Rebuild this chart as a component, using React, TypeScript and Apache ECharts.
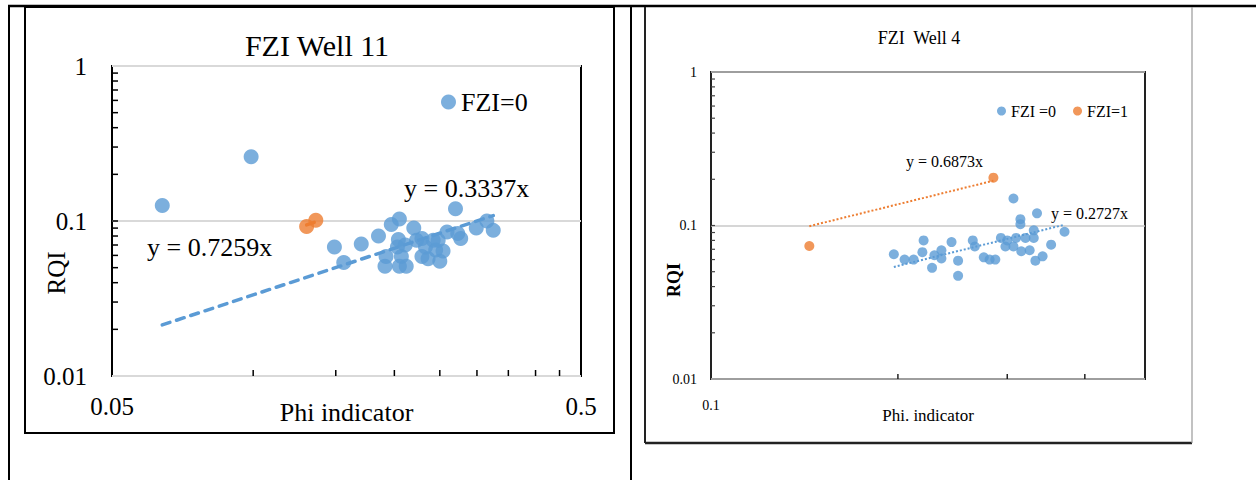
import React, { useEffect, useRef } from 'react';
import * as echarts from 'echarts';

// ---------- data ----------
// Well 11 (left chart)
const well11Fzi0: [number, number][] = [
  [0.064, 0.126], [0.099, 0.26], [0.149, 0.068], [0.156, 0.054], [0.170, 0.071],
  [0.185, 0.080], [0.197, 0.095], [0.205, 0.103], [0.191, 0.051], [0.192, 0.059],
  [0.204, 0.076], [0.203, 0.068], [0.207, 0.059], [0.205, 0.051], [0.212, 0.051],
  [0.220, 0.090], [0.223, 0.075], [0.229, 0.059], [0.236, 0.057], [0.233, 0.068],
  [0.242, 0.075], [0.245, 0.065], [0.250, 0.055], [0.254, 0.064], [0.259, 0.085],
  [0.270, 0.120], [0.273, 0.083], [0.277, 0.077], [0.299, 0.090], [0.315, 0.100],
  [0.325, 0.087], [0.248, 0.075], [0.211, 0.070], [0.229, 0.077],
];
const well11Fzi1: [number, number][] = [[0.130, 0.092], [0.136, 0.101]];
const well11SlopeFzi0 = 0.3337;
const well11SlopeFzi1 = 0.7259;

// Well 4 (right chart)
const well4Fzi0: [number, number][] = [
  [0.197, 0.065], [0.205, 0.060], [0.212, 0.060], [0.220, 0.080], [0.219, 0.067],
  [0.227, 0.053], [0.229, 0.064], [0.235, 0.069], [0.235, 0.061], [0.244, 0.078],
  [0.250, 0.059], [0.250, 0.047], [0.264, 0.080], [0.266, 0.073], [0.275, 0.062],
  [0.281, 0.060], [0.287, 0.060], [0.293, 0.083], [0.298, 0.073], [0.300, 0.080],
  [0.307, 0.150], [0.307, 0.073], [0.310, 0.083], [0.315, 0.110], [0.315, 0.102],
  [0.316, 0.068], [0.321, 0.083], [0.326, 0.069], [0.331, 0.093], [0.331, 0.083],
  [0.335, 0.120], [0.333, 0.059], [0.342, 0.063], [0.353, 0.075], [0.371, 0.091],
];
const well4Fzi1: [number, number][] = [[0.144, 0.0735], [0.285, 0.205]];
const well4SlopeFzi0 = 0.2727;
const well4SlopeFzi1 = 0.6873;

// axis tick positions
const well11XTicks = [0.1, 0.15, 0.2, 0.25, 0.3, 0.35, 0.4, 0.45];
const well4XTicks = [0.2, 0.3, 0.4];
const yTicks = [0.02, 0.03, 0.04, 0.05, 0.06, 0.07, 0.08, 0.09, 0.1, 0.2, 0.3, 0.4, 0.5, 0.6, 0.7, 0.8, 0.9];

// ---------- helpers ----------
const FONT = "'Liberation Serif', 'Times New Roman', serif";
const BLUE = '#5B9BD5';
const ORANGE = '#ED7D31';

const fmt = (v: number) => String(Number(Number(v).toPrecision(6)));

const trend = (pts: [number, number][], k: number): [number, number][] => {
  const xs = pts.map((p) => p[0]);
  const x0 = Math.min(...xs);
  const x1 = Math.max(...xs);
  return [[x0, k * x0], [x1, k * x1]];
};

const tickSeries = (xi: number, data: number[][], dx: number, dy: number, color: string, lw: number) => ({
  type: 'custom',
  xAxisIndex: xi,
  yAxisIndex: xi,
  silent: true,
  z: 6,
  data,
  renderItem: (_p: any, api: any) => {
    const p = api.coord([api.value(0), api.value(1)]);
    return {
      type: 'line',
      shape: { x1: p[0], y1: p[1], x2: p[0] + dx, y2: p[1] + dy },
      style: { stroke: color, lineWidth: lw },
    };
  },
});

const txt = (text: string, x: number, y: number, size: number, opts: any = {}) => ({
  type: 'text',
  x,
  y,
  rotation: opts.rotation || 0,
  z: 10,
  style: {
    text,
    font: `${opts.weight || 'normal'} ${size}px ${FONT}`,
    fill: '#000',
    align: opts.align || 'left',
    verticalAlign: 'middle',
    textAlign: opts.align || 'left',
    textVerticalAlign: 'middle',
  },
});

const line = (x1: number, y1: number, x2: number, y2: number, stroke: string, lw: number) => ({
  type: 'line',
  shape: { x1, y1, x2, y2 },
  style: { stroke, lineWidth: lw },
  z: 1,
});

const xAxisBase = (gi: number, min: number, max: number, name: string, nameSize: number, nameGap: number, labelSize: number, margin: number, hideMax: boolean) => ({
  type: 'log',
  logBase: 10,
  gridIndex: gi,
  min,
  max,
  name,
  nameLocation: 'middle',
  nameGap,
  nameMoveOverlap: false,
  nameTextStyle: { fontFamily: FONT, fontSize: nameSize, color: '#000' },
  axisLine: { show: false },
  axisTick: { show: false },
  minorTick: { show: false },
  splitLine: { show: false },
  axisLabel: {
    fontFamily: FONT,
    fontSize: labelSize,
    color: '#000',
    margin,
    showMinLabel: true,
    showMaxLabel: !hideMax,
    formatter: (v: number) => {
      if (Math.abs(v - min) < 1e-9 || (!hideMax && Math.abs(v - max) < 1e-9)) return fmt(v);
      return '';
    },
  },
});

const yAxisBase = (gi: number, labelSize: number, margin: number, gridColor: string, gridWidth: number) => ({
  type: 'log',
  logBase: 10,
  gridIndex: gi,
  min: 0.01,
  max: 1,
  axisLine: { show: false },
  axisTick: { show: false },
  minorTick: { show: false },
  splitLine: { show: true, lineStyle: { color: gridColor, width: gridWidth } },
  axisLabel: { fontFamily: FONT, fontSize: labelSize, color: '#000', margin, formatter: (v: number) => fmt(v) },
});

export default function App() {
  const ref = useRef<HTMLDivElement>(null);

  useEffect(() => {
    if (!ref.current) return;
    const chart = echarts.init(ref.current, null, { renderer: 'svg' });

    const option: any = {
      animation: false,
      backgroundColor: '#ffffff',
      grid: [
        { left: 112, top: 66, width: 469, height: 310, show: true, borderColor: '#000', borderWidth: 2, backgroundColor: 'rgba(0,0,0,0)' },
        { left: 711, top: 72, width: 434, height: 307, show: true, borderColor: '#222', borderWidth: 2, backgroundColor: 'rgba(0,0,0,0)' },
      ],
      xAxis: [
        xAxisBase(0, 0.05, 0.5, 'Phi indicator', 26, 23, 25, 18, false),
        xAxisBase(1, 0.1, 0.5, 'Phi. indicator', 17, 28, 14, 19, true),
      ],
      yAxis: [
        yAxisBase(0, 25, 25, '#D9D9D9', 2),
        yAxisBase(1, 14, 14, '#C8C8C8', 1.5),
      ],
      legend: [
        {
          data: ['FZI=0'],
          left: 441,
          top: 89,
          padding: 0,
          icon: 'circle',
          itemWidth: 15,
          itemHeight: 15,
          selectedMode: false,
          textStyle: { fontFamily: FONT, fontSize: 26, color: '#000' },
        },
        {
          data: ['FZI =0', 'FZI=1'],
          left: 997,
          top: 103,
          padding: 0,
          icon: 'circle',
          itemWidth: 9,
          itemHeight: 9,
          itemGap: 17,
          selectedMode: false,
          textStyle: { fontFamily: FONT, fontSize: 16, color: '#000' },
        },
      ],
      series: [
        // Well 11
        {
          type: 'line', name: 'trend11a', xAxisIndex: 0, yAxisIndex: 0, z: 3,
          data: trend(well11Fzi0, well11SlopeFzi0), showSymbol: false, silent: true,
          lineStyle: { color: BLUE, width: 3.5, type: [8, 7], cap: 'round' },
        },
        {
          type: 'line', name: 'trend11b', xAxisIndex: 0, yAxisIndex: 0, z: 3,
          data: trend(well11Fzi1, well11SlopeFzi1), showSymbol: false, silent: true,
          lineStyle: { color: ORANGE, width: 3.5, type: [8, 7], cap: 'round' },
        },
        {
          type: 'scatter', name: 'FZI=0', xAxisIndex: 0, yAxisIndex: 0, z: 4,
          data: well11Fzi0, symbolSize: 15, itemStyle: { color: BLUE },
        },
        {
          type: 'scatter', name: 'FZI=1 (11)', xAxisIndex: 0, yAxisIndex: 0, z: 4,
          data: well11Fzi1, symbolSize: 15, itemStyle: { color: ORANGE },
        },
        // Well 4
        {
          type: 'line', name: 'trend4a', xAxisIndex: 1, yAxisIndex: 1, z: 3,
          data: trend(well4Fzi0, well4SlopeFzi0), showSymbol: false, silent: true,
          lineStyle: { color: BLUE, width: 2, type: 'dotted' },
        },
        {
          type: 'line', name: 'trend4b', xAxisIndex: 1, yAxisIndex: 1, z: 3,
          data: trend(well4Fzi1, well4SlopeFzi1), showSymbol: false, silent: true,
          lineStyle: { color: ORANGE, width: 2, type: 'dotted' },
        },
        {
          type: 'scatter', name: 'FZI =0', xAxisIndex: 1, yAxisIndex: 1, z: 4,
          data: well4Fzi0, symbolSize: 10, itemStyle: { color: BLUE },
        },
        {
          type: 'scatter', name: 'FZI=1', xAxisIndex: 1, yAxisIndex: 1, z: 4,
          data: well4Fzi1, symbolSize: 10, itemStyle: { color: ORANGE },
        },
        // ticks
        tickSeries(0, well11XTicks.map((x) => [x, 0.01]), 0, -6, '#000', 1.5),
        tickSeries(0, yTicks.map((y) => [0.05, y]), 6, 0, '#000', 1.5),
        tickSeries(1, well4XTicks.map((x) => [x, 0.01]), 0, -5, '#222', 1.5),
        tickSeries(1, yTicks.map((y) => [0.1, y]), 4, 0, '#444', 1.2),
      ],
      graphic: [
        // table lines
        line(8, 6, 1256, 6, '#000', 2.5),
        line(9, 6, 9, 480, '#000', 2),
        line(631, 6, 631, 480, '#000', 2),
        // left chart box
        { type: 'rect', shape: { x: 25, y: 7, width: 589, height: 426 }, style: { fill: 'none', stroke: '#000', lineWidth: 2 }, z: 1 },
        // right chart box
        line(645, 7, 645, 443, '#222', 2),
        line(645, 443, 1192, 443, '#222', 2.5),
        line(1192, 7, 1192, 443, '#999', 1.2),
        // titles
        txt('FZI Well 11', 317, 45, 30, { align: 'center' }),
        txt('FZI  Well 4', 919, 38, 18, { align: 'center' }),
        // y axis titles
        txt('RQI', 56, 273, 25, { align: 'center', rotation: Math.PI / 2 }),
        txt('RQI', 674, 280, 18, { align: 'center', rotation: Math.PI / 2, weight: 'bold' }),
        // equations
        txt('y = 0.3337x', 404, 188, 26),
        txt('y = 0.7259x', 147, 247, 26),
        txt('y = 0.6873x', 906, 161, 16),
        txt('y = 0.2727x', 1051, 213, 16),
      ],
    };

    chart.setOption(option);
    return () => chart.dispose();
  }, []);

  return (
    <div
      ref={ref}
      style={{ position: 'fixed', left: 0, top: 0, width: 1256, height: 480, background: '#fff' }}
    />
  );
}
